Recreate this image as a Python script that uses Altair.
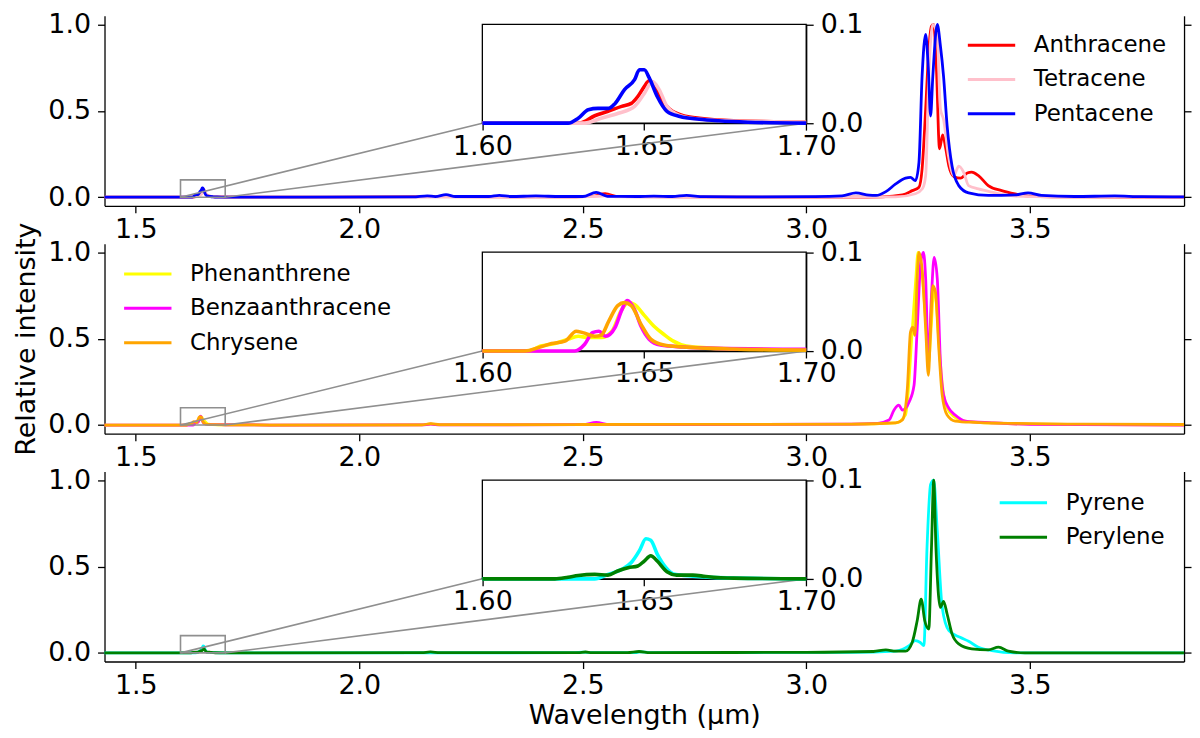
import altair as alt
import pandas as pd

FONT = "DejaVu Sans"
W, H = 1085, 191

X_DOMAIN = [1.43, 3.845]
Y_DOMAIN = [-0.05, 1.05]
ZOOM_X = [1.60, 1.70]
ZOOM_Y = [0.0, 0.1]
# inset box as fractions of the panel: left, bottom, width, height
INSET = [0.35, 0.435, 0.30, 0.52]

X_TICKS = [1.5, 2.0, 2.5, 3.0, 3.5]
Y_TICKS = [0.0, 0.5, 1.0]
ZOOM_X_TICKS = [1.60, 1.65, 1.70]
ZOOM_Y_TICKS = [0.0, 0.1]

# (wavelength in um, relative intensity)
ANTHRACENE = [
    (1.43, 0), (1.60, 0), (1.630, 0), (1.6347, 0.0075), (1.6388, 0.012), (1.643, 0.017),
    (1.646, 0.020), (1.648, 0.027), (1.650, 0.037), (1.6515, 0.043), (1.653, 0.040),
    (1.655, 0.025), (1.658, 0.0136), (1.662, 0.0075), (1.667, 0.005), (1.6776, 0.0024),
    (1.690, 0.0015), (1.700, 0.001), (1.75, 0.0005), (1.90, 0), (2.20, 0.003), (2.45, 0.002),
    (2.52, 0.005), (2.55, 0.02), (2.58, 0.003), (2.90, 0), (3.10, 0), (3.17, 0.002),
    (3.215, 0.013), (3.237, 0.038), (3.252, 0.058), (3.259, 0.163), (3.267, 0.51),
    (3.274, 0.855), (3.280, 0.99), (3.285, 1.0), (3.291, 0.75), (3.298, 0.28), (3.305, 0.36),
    (3.312, 0.28), (3.319, 0.18), (3.330, 0.12), (3.345, 0.11), (3.360, 0.14), (3.370, 0.145),
    (3.385, 0.125), (3.407, 0.067), (3.437, 0.038), (3.467, 0.019), (3.496, 0.006),
    (3.55, 0.002), (3.70, 0.001), (3.845, 0),
]
TETRACENE = [
    (1.43, 0), (1.60, 0), (1.6316, 0), (1.6367, 0.005), (1.642, 0.010), (1.647, 0.017),
    (1.650, 0.030), (1.6525, 0.042), (1.6546, 0.034), (1.657, 0.017), (1.661, 0.0075),
    (1.667, 0.004), (1.680, 0.002), (1.700, 0.001), (1.75, 0), (2.45, 0.001), (2.52, 0.003),
    (2.55, 0.008), (2.58, 0.002), (3.00, 0), (3.20, 0.002), (3.244, 0.02), (3.260, 0.05),
    (3.267, 0.125), (3.274, 0.70), (3.283, 1.0), (3.293, 0.93), (3.300, 0.51), (3.307, 0.45),
    (3.318, 0.24), (3.330, 0.125), (3.341, 0.18), (3.352, 0.144), (3.363, 0.067),
    (3.385, 0.048), (3.415, 0.029), (3.452, 0.01), (3.50, 0.003), (3.845, 0),
]
PENTACENE = [
    (1.43, 0), (1.60, 0), (1.6265, 0), (1.6296, 0.005), (1.6327, 0.0136), (1.6357, 0.015),
    (1.639, 0.015), (1.641, 0.020), (1.6439, 0.034), (1.647, 0.044), (1.6485, 0.054),
    (1.650, 0.054), (1.6515, 0.046), (1.654, 0.027), (1.657, 0.012), (1.661, 0.0068),
    (1.667, 0.004), (1.673, 0.0024), (1.682, 0.001), (1.700, 0), (2.12, 0.002), (2.152, 0.008),
    (2.17, 0.003), (2.194, 0.015), (2.215, 0.004), (2.29, 0.004), (2.313, 0.01), (2.34, 0.004),
    (2.395, 0.007), (2.45, 0.004), (2.50, 0.004), (2.53, 0.028), (2.555, 0.005), (2.62, 0.004),
    (2.659, 0.006), (2.70, 0.004), (2.732, 0.01), (2.77, 0.003), (2.90, 0.002), (3.02, 0.003),
    (3.08, 0.008), (3.111, 0.025), (3.14, 0.012), (3.156, 0.01), (3.178, 0.032), (3.200, 0.077),
    (3.222, 0.11), (3.233, 0.115), (3.244, 0.096), (3.252, 0.202), (3.259, 0.70), (3.267, 0.942),
    (3.273, 0.74), (3.278, 0.47), (3.283, 0.70), (3.293, 1.0), (3.300, 0.875), (3.307, 0.70),
    (3.315, 0.413), (3.326, 0.18), (3.341, 0.067), (3.363, 0.025), (3.407, 0.01), (3.467, 0.013),
    (3.496, 0.025), (3.526, 0.01), (3.60, 0.004), (3.69, 0.007), (3.75, 0.003), (3.845, 0.002),
]
PHENANTHRENE = [
    (1.43, 0), (1.60, 0), (1.6143, 0), (1.618, 0.005), (1.6224, 0.0075), (1.6265, 0.012),
    (1.6296, 0.015), (1.6327, 0.0136), (1.6367, 0.0136), (1.640, 0.020), (1.6429, 0.041),
    (1.645, 0.049), (1.647, 0.047), (1.650, 0.036), (1.653, 0.025), (1.656, 0.017),
    (1.659, 0.010), (1.663, 0.005), (1.672, 0.0027), (1.700, 0.001), (1.80, 0), (2.14, 0.001),
    (2.16, 0.006), (2.18, 0.001), (2.50, 0.002), (3.10, 0.004), (3.20, 0.012), (3.222, 0.06),
    (3.237, 0.55), (3.245, 0.85), (3.250, 1.0), (3.258, 0.9), (3.267, 0.6), (3.273, 0.35),
    (3.279, 0.55), (3.285, 0.78), (3.291, 0.7), (3.298, 0.42), (3.306, 0.2), (3.315, 0.1),
    (3.330, 0.05), (3.350, 0.025), (3.40, 0.012), (3.50, 0.005), (3.845, 0),
]
BENZAANTHRACENE = [
    (1.43, 0), (1.60, 0), (1.6286, 0), (1.6316, 0.0068), (1.634, 0.0186), (1.636, 0.020),
    (1.638, 0.015), (1.641, 0.024), (1.643, 0.041), (1.6447, 0.051), (1.647, 0.042),
    (1.649, 0.025), (1.6515, 0.012), (1.655, 0.006), (1.662, 0.004), (1.672, 0.0027),
    (1.700, 0.0017), (1.80, 0), (2.14, 0.001), (2.16, 0.005), (2.18, 0.001), (2.50, 0.002),
    (2.53, 0.015), (2.56, 0.002), (3.10, 0.005), (3.16, 0.01), (3.185, 0.029), (3.196, 0.086),
    (3.207, 0.115), (3.215, 0.086), (3.230, 0.134), (3.241, 0.23), (3.248, 0.557),
    (3.256, 0.942), (3.262, 1.0), (3.267, 0.846), (3.273, 0.365), (3.280, 0.75), (3.286, 0.97),
    (3.293, 0.846), (3.300, 0.365), (3.307, 0.173), (3.319, 0.096), (3.333, 0.058),
    (3.356, 0.023), (3.415, 0.013), (3.50, 0.004), (3.845, 0),
]
CHRYSENE = [
    (1.43, 0), (1.60, 0), (1.6133, 0), (1.6173, 0.0034), (1.6214, 0.0075), (1.6255, 0.010),
    (1.629, 0.020), (1.631, 0.0186), (1.6347, 0.015), (1.6367, 0.016), (1.639, 0.030),
    (1.6418, 0.046), (1.6439, 0.049), (1.646, 0.046), (1.649, 0.027), (1.652, 0.012),
    (1.656, 0.006), (1.662, 0.004), (1.6776, 0.002), (1.700, 0.001), (1.80, 0), (2.14, 0.001),
    (2.16, 0.008), (2.18, 0.002), (2.50, 0.003), (3.10, 0.005), (3.20, 0.012), (3.215, 0.029),
    (3.226, 0.211), (3.233, 0.538), (3.238, 0.567), (3.243, 0.519), (3.248, 0.846),
    (3.252, 1.0), (3.259, 0.903), (3.267, 0.557), (3.273, 0.288), (3.278, 0.557),
    (3.283, 0.807), (3.289, 0.769), (3.296, 0.461), (3.304, 0.173), (3.315, 0.058),
    (3.333, 0.023), (3.378, 0.015), (3.452, 0.01), (3.60, 0.005), (3.845, 0.003),
]
PYRENE = [
    (1.43, 0), (1.60, 0), (1.6347, 0), (1.6388, 0.0045), (1.643, 0.0096), (1.646, 0.0165),
    (1.6485, 0.0285), (1.6505, 0.0405), (1.652, 0.039), (1.654, 0.025), (1.6567, 0.0113),
    (1.659, 0.005), (1.665, 0.0027), (1.6755, 0.001), (1.700, 0), (2.48, 0.001), (2.50, 0.004),
    (2.52, 0.001), (2.62, 0.002), (2.63, 0.006), (2.65, 0.002), (3.10, 0.003), (3.20, 0.01),
    (3.230, 0.042), (3.244, 0.071), (3.255, 0.06), (3.263, 0.042), (3.270, 0.609),
    (3.278, 0.975), (3.285, 1.0), (3.293, 0.706), (3.304, 0.263), (3.319, 0.129),
    (3.344, 0.09), (3.363, 0.067), (3.385, 0.033), (3.415, 0.013), (3.467, 0), (3.845, 0),
]
PERYLENE = [
    (1.43, 0), (1.60, 0), (1.6224, 0), (1.6265, 0.0017), (1.6296, 0.0034), (1.6347, 0.0045),
    (1.6388, 0.0038), (1.6418, 0.0079), (1.645, 0.0113), (1.648, 0.013), (1.650, 0.018),
    (1.652, 0.0234), (1.654, 0.018), (1.657, 0.0072), (1.660, 0.0038), (1.665, 0.0038),
    (1.669, 0.0024), (1.6776, 0.0007), (1.700, 0), (2.14, 0.001), (2.159, 0.006), (2.18, 0.001),
    (2.49, 0.001), (2.506, 0.005), (2.52, 0.001), (2.60, 0.002), (2.626, 0.008), (2.65, 0.002),
    (3.00, 0.003), (3.15, 0.008), (3.178, 0.017), (3.200, 0.01), (3.222, 0.01), (3.237, 0.062),
    (3.248, 0.186), (3.257, 0.311), (3.265, 0.186), (3.274, 0.138), (3.280, 0.609),
    (3.285, 1.0), (3.290, 0.609), (3.300, 0.263), (3.307, 0.298), (3.315, 0.225),
    (3.326, 0.11), (3.341, 0.052), (3.370, 0.023), (3.407, 0.017), (3.430, 0.033),
    (3.452, 0.01), (3.489, 0), (3.845, 0),
]

NAMES = [
    ["Anthracene", "Tetracene", "Pentacene"],
    ["Phenanthrene", "Benzaanthracene", "Chrysene"],
    ["Pyrene", "Perylene"],
]
SERIES = [
    [ANTHRACENE, TETRACENE, PENTACENE],
    [PHENANTHRENE, BENZAANTHRACENE, CHRYSENE],
    [PYRENE, PERYLENE],
]
COLORS = [
    ["red", "pink", "blue"],
    ["yellow", "magenta", "orange"],
    ["cyan", "green"],
]
LEGEND_POS = [(873, 11), (25, 12), (905, 13)]

GRAY = "#8f8f8f"

# inset placement, in pixels and in main-panel data units
ins_left = INSET[0] * W
ins_right = (INSET[0] + INSET[2]) * W
ins_bottom = (1 - INSET[1]) * H
ins_top = (1 - INSET[1] - INSET[3]) * H
xspan = X_DOMAIN[1] - X_DOMAIN[0]
yspan = Y_DOMAIN[1] - Y_DOMAIN[0]
corner_x = [X_DOMAIN[0] + INSET[0] * xspan, X_DOMAIN[0] + (INSET[0] + INSET[2]) * xspan]
corner_y = Y_DOMAIN[0] + INSET[1] * yspan


def make_panel(names, series, colors, legend_pos, x_title=None, y_title=None):
    frames = [pd.DataFrame(s, columns=["wl", "intensity"]).assign(name=n)
              for n, s in zip(names, series)]

    main_x = alt.Scale(domain=X_DOMAIN, nice=False, zero=False)
    main_y = alt.Scale(domain=Y_DOMAIN, nice=False, zero=False)
    zoom_x = alt.Scale(domain=ZOOM_X, range=[ins_left, ins_right], nice=False, zero=False)
    zoom_y = alt.Scale(domain=ZOOM_Y, range=[ins_bottom, ins_top], nice=False, zero=False)
    cscale = alt.Scale(domain=names, range=colors)

    legend = alt.Legend(
        title=None, orient="none", legendX=legend_pos[0], legendY=legend_pos[1],
        symbolType="M-1.4,0H1.4", symbolSize=1156, symbolStrokeWidth=3,
        labelFont=FONT, labelFontSize=23, labelColor="black", labelOffset=24,
        labelLimit=400, rowPadding=3.5, padding=0, symbolOpacity=1,
    )
    x_axis = alt.Axis(values=X_TICKS, format=".1f", title=x_title, labelPadding=4,
                      titleY=62, titleBaseline="alphabetic")
    y_axis = alt.Axis(values=Y_TICKS, format=".1f", title=y_title,
                      titleX=-70, titleY=H / 2, titleBaseline="alphabetic")

    main_layers = []
    for i, f in enumerate(frames):
        main_layers.append(
            alt.Chart(f).mark_line(strokeWidth=2.8, interpolate="monotone").encode(
                x=alt.X("wl:Q", scale=main_x, axis=x_axis if i == 0 else None),
                y=alt.Y("intensity:Q", scale=main_y, axis=y_axis if i == 0 else None),
                color=alt.Color("name:N", scale=cscale, legend=legend),
            )
        )

    box = alt.Chart(pd.DataFrame({"x0": [ZOOM_X[0]], "x1": [ZOOM_X[1]],
                                  "y0": [ZOOM_Y[0]], "y1": [ZOOM_Y[1]]})).mark_rect(
        fillOpacity=0, stroke=GRAY, strokeWidth=1.6
    ).encode(
        x=alt.X("x0:Q", scale=main_x, axis=None),
        x2="x1:Q",
        y=alt.Y("y0:Q", scale=main_y,
                axis=alt.Axis(orient="right", values=Y_TICKS, labels=False, title=None)),
        y2="y1:Q",
    )

    connectors = alt.Chart(pd.DataFrame({
        "x0": ZOOM_X, "y0": [ZOOM_Y[0], ZOOM_Y[0]],
        "x1": corner_x, "y1": [corner_y, corner_y],
    })).mark_rule(color=GRAY, strokeWidth=1.6).encode(
        x=alt.X("x0:Q", scale=main_x, axis=None),
        x2="x1:Q",
        y=alt.Y("y0:Q", scale=main_y, axis=None),
        y2="y1:Q",
    )

    main = alt.layer(*main_layers, box, connectors).resolve_axis(x="independent", y="independent")

    ix_axis = alt.Axis(orient="bottom", offset=-(H - ins_bottom), values=ZOOM_X_TICKS,
                       format=".2f", title=None, labelPadding=3)
    iy_axis = alt.Axis(orient="right", offset=-(W - ins_right), values=ZOOM_Y_TICKS,
                       format=".1f", title=None)

    frame = alt.Chart(pd.DataFrame({"x0": [ZOOM_X[0]], "x1": [ZOOM_X[1]],
                                    "y0": [ZOOM_Y[0]], "y1": [ZOOM_Y[1]]})).mark_rect(
        fillOpacity=0, stroke="black", strokeWidth=1.3
    ).encode(
        x=alt.X("x0:Q", scale=zoom_x, axis=ix_axis),
        x2="x1:Q",
        y=alt.Y("y0:Q", scale=zoom_y, axis=iy_axis),
        y2="y1:Q",
    )

    inset_layers = []
    for f in frames:
        z = f[(f.wl >= ZOOM_X[0]) & (f.wl <= ZOOM_X[1])]
        inset_layers.append(
            alt.Chart(z).mark_line(strokeWidth=3.6, interpolate="monotone").encode(
                x=alt.X("wl:Q", scale=zoom_x, axis=None),
                y=alt.Y("intensity:Q", scale=zoom_y, axis=None),
                color=alt.Color("name:N", scale=cscale, legend=None),
            )
        )
    inset = alt.layer(frame, *inset_layers).resolve_axis(x="independent", y="independent")

    return alt.layer(main, inset).resolve_scale(x="independent", y="independent").properties(
        width=W, height=H
    )


panels = [
    make_panel(NAMES[0], SERIES[0], COLORS[0], LEGEND_POS[0]),
    make_panel(NAMES[1], SERIES[1], COLORS[1], LEGEND_POS[1], y_title="Relative intensity"),
    make_panel(NAMES[2], SERIES[2], COLORS[2], LEGEND_POS[2], x_title="Wavelength (μm)"),
]

chart = alt.vconcat(*panels, spacing=38, bounds="flush").resolve_scale(
    color="independent"
).configure_axis(
    labelFont=FONT, labelFontSize=27, labelColor="black",
    titleFont=FONT, titleFontSize=27, titleFontWeight="normal", titleColor="black",
    domainColor="black", domainWidth=1.3, tickColor="black", tickWidth=1.3,
    tickSize=7, labelPadding=7, grid=False, labelFlush=False,
).configure_view(stroke=None).properties(
    padding={"left": 4, "top": 0, "right": 0, "bottom": 0}
)

chart.save("out.html", embed_options={"renderer": "svg", "actions": False})
